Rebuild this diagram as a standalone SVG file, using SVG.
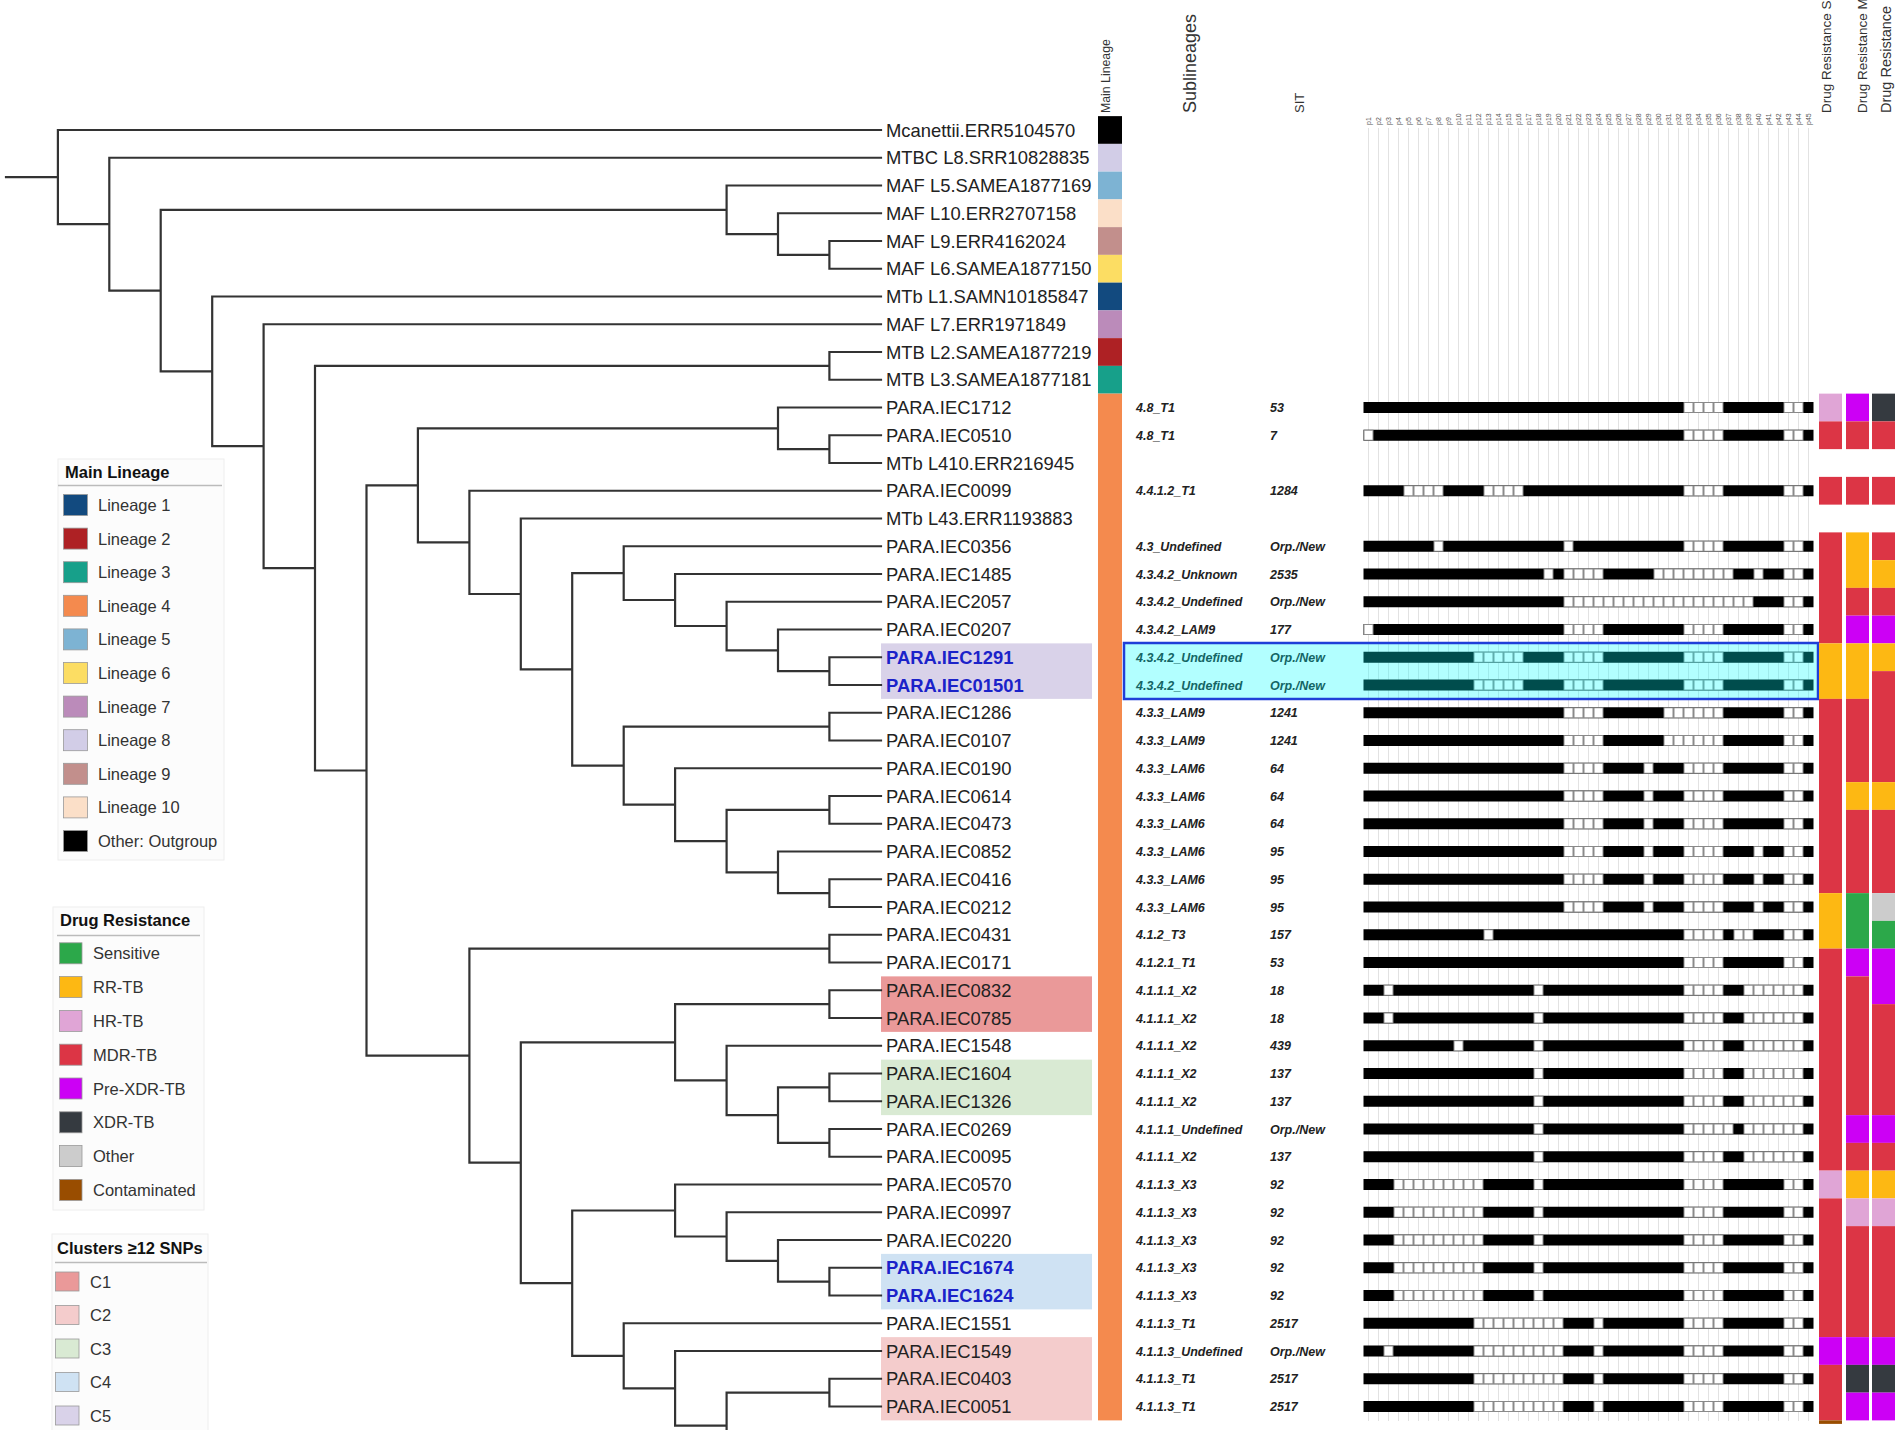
<svg xmlns="http://www.w3.org/2000/svg" xmlns:xlink="http://www.w3.org/1999/xlink" width="1902" height="1430" viewBox="0 0 1902 1430">
<style>
.lbl{font-family:"Liberation Sans",Arial,sans-serif;font-size:18.4px;fill:#222}
.lb{font-weight:bold;fill:#1b22c9}
.sub{font-family:"Liberation Sans",Arial,sans-serif;font-size:12.5px;font-weight:bold;font-style:italic;fill:#222}
.hdr{font-family:"Liberation Sans",Arial,sans-serif;fill:#333}
.pl{font-family:"Liberation Sans",Arial,sans-serif;font-size:7px;fill:#555}
.tree{fill:none;stroke:#333;stroke-width:2.2;stroke-linecap:square}
.grid{fill:none;stroke:#e2e2e2;stroke-width:1}
.bb{fill:#000}
.wr{fill:url(#wsq)}
.leg{font-family:"Liberation Sans",Arial,sans-serif;font-size:16.5px;fill:#333}
.legt{font-weight:bold;fill:#111}
.lbox{fill:#fcfcfc;stroke:#eeeeee;stroke-width:1}
.sep{stroke:#bbbbbb;stroke-width:1.5}
.sw{stroke:#999;stroke-width:0.8}
.mdr{fill:#dc3545}.rr{fill:#fdb813}.hr{fill:#e0a5d6}.px{fill:#cc00f5}.xdr{fill:#353a40}.sen{fill:#2ca84a}.oth{fill:#cccccc}.con{fill:#994d00}
</style>
<defs>
<pattern id="wsq" patternUnits="userSpaceOnUse" x="1363.5" y="-5.5" width="10" height="11">
<rect x="0.5" y="0.5" width="9" height="10" fill="#fff" stroke="#8a8a8a" stroke-width="1"/>
</pattern>
<g id="spA"><rect class="bb" x="1363.5" y="-5.5" width="450" height="11"/><rect class="wr" x="1683.5" y="-5.5" width="40" height="11"/><rect class="wr" x="1783.5" y="-5.5" width="20" height="11"/></g>
<g id="spB"><rect class="bb" x="1363.5" y="-5.5" width="450" height="11"/><rect class="wr" x="1363.5" y="-5.5" width="10" height="11"/><rect class="wr" x="1683.5" y="-5.5" width="40" height="11"/><rect class="wr" x="1783.5" y="-5.5" width="20" height="11"/></g>
<g id="spC"><rect class="bb" x="1363.5" y="-5.5" width="450" height="11"/><rect class="wr" x="1403.5" y="-5.5" width="40" height="11"/><rect class="wr" x="1483.5" y="-5.5" width="40" height="11"/><rect class="wr" x="1683.5" y="-5.5" width="40" height="11"/><rect class="wr" x="1783.5" y="-5.5" width="20" height="11"/></g>
<g id="spD"><rect class="bb" x="1363.5" y="-5.5" width="450" height="11"/><rect class="wr" x="1433.5" y="-5.5" width="10" height="11"/><rect class="wr" x="1563.5" y="-5.5" width="10" height="11"/><rect class="wr" x="1683.5" y="-5.5" width="40" height="11"/><rect class="wr" x="1783.5" y="-5.5" width="20" height="11"/></g>
<g id="spE"><rect class="bb" x="1363.5" y="-5.5" width="450" height="11"/><rect class="wr" x="1543.5" y="-5.5" width="10" height="11"/><rect class="wr" x="1563.5" y="-5.5" width="40" height="11"/><rect class="wr" x="1653.5" y="-5.5" width="80" height="11"/><rect class="wr" x="1753.5" y="-5.5" width="10" height="11"/><rect class="wr" x="1783.5" y="-5.5" width="20" height="11"/></g>
<g id="spF"><rect class="bb" x="1363.5" y="-5.5" width="450" height="11"/><rect class="wr" x="1563.5" y="-5.5" width="190" height="11"/><rect class="wr" x="1783.5" y="-5.5" width="20" height="11"/></g>
<g id="spG"><rect class="bb" x="1363.5" y="-5.5" width="450" height="11"/><rect class="wr" x="1363.5" y="-5.5" width="10" height="11"/><rect class="wr" x="1563.5" y="-5.5" width="40" height="11"/><rect class="wr" x="1683.5" y="-5.5" width="40" height="11"/><rect class="wr" x="1783.5" y="-5.5" width="20" height="11"/></g>
<g id="spH"><rect class="bb" x="1363.5" y="-5.5" width="450" height="11"/><rect class="wr" x="1473.5" y="-5.5" width="50" height="11"/><rect class="wr" x="1563.5" y="-5.5" width="40" height="11"/><rect class="wr" x="1683.5" y="-5.5" width="40" height="11"/><rect class="wr" x="1783.5" y="-5.5" width="20" height="11"/></g>
<g id="spI"><rect class="bb" x="1363.5" y="-5.5" width="450" height="11"/><rect class="wr" x="1563.5" y="-5.5" width="40" height="11"/><rect class="wr" x="1663.5" y="-5.5" width="60" height="11"/><rect class="wr" x="1783.5" y="-5.5" width="20" height="11"/></g>
<g id="spJ"><rect class="bb" x="1363.5" y="-5.5" width="450" height="11"/><rect class="wr" x="1563.5" y="-5.5" width="40" height="11"/><rect class="wr" x="1643.5" y="-5.5" width="10" height="11"/><rect class="wr" x="1683.5" y="-5.5" width="40" height="11"/><rect class="wr" x="1783.5" y="-5.5" width="20" height="11"/></g>
<g id="spK"><rect class="bb" x="1363.5" y="-5.5" width="450" height="11"/><rect class="wr" x="1563.5" y="-5.5" width="40" height="11"/><rect class="wr" x="1643.5" y="-5.5" width="10" height="11"/><rect class="wr" x="1683.5" y="-5.5" width="40" height="11"/><rect class="wr" x="1753.5" y="-5.5" width="10" height="11"/><rect class="wr" x="1783.5" y="-5.5" width="20" height="11"/></g>
<g id="spL"><rect class="bb" x="1363.5" y="-5.5" width="450" height="11"/><rect class="wr" x="1483.5" y="-5.5" width="10" height="11"/><rect class="wr" x="1683.5" y="-5.5" width="40" height="11"/><rect class="wr" x="1733.5" y="-5.5" width="20" height="11"/><rect class="wr" x="1783.5" y="-5.5" width="20" height="11"/></g>
<g id="spM"><rect class="bb" x="1363.5" y="-5.5" width="450" height="11"/><rect class="wr" x="1383.5" y="-5.5" width="10" height="11"/><rect class="wr" x="1533.5" y="-5.5" width="10" height="11"/><rect class="wr" x="1683.5" y="-5.5" width="40" height="11"/><rect class="wr" x="1743.5" y="-5.5" width="60" height="11"/></g>
<g id="spN"><rect class="bb" x="1363.5" y="-5.5" width="450" height="11"/><rect class="wr" x="1453.5" y="-5.5" width="10" height="11"/><rect class="wr" x="1533.5" y="-5.5" width="10" height="11"/><rect class="wr" x="1683.5" y="-5.5" width="40" height="11"/><rect class="wr" x="1743.5" y="-5.5" width="60" height="11"/></g>
<g id="spO"><rect class="bb" x="1363.5" y="-5.5" width="450" height="11"/><rect class="wr" x="1533.5" y="-5.5" width="10" height="11"/><rect class="wr" x="1683.5" y="-5.5" width="40" height="11"/><rect class="wr" x="1743.5" y="-5.5" width="60" height="11"/></g>
<g id="spP"><rect class="bb" x="1363.5" y="-5.5" width="450" height="11"/><rect class="wr" x="1533.5" y="-5.5" width="10" height="11"/><rect class="wr" x="1683.5" y="-5.5" width="50" height="11"/><rect class="wr" x="1743.5" y="-5.5" width="60" height="11"/></g>
<g id="spQ"><rect class="bb" x="1363.5" y="-5.5" width="450" height="11"/><rect class="wr" x="1393.5" y="-5.5" width="90" height="11"/><rect class="wr" x="1533.5" y="-5.5" width="10" height="11"/><rect class="wr" x="1683.5" y="-5.5" width="40" height="11"/><rect class="wr" x="1783.5" y="-5.5" width="20" height="11"/></g>
<g id="spR"><rect class="bb" x="1363.5" y="-5.5" width="450" height="11"/><rect class="wr" x="1473.5" y="-5.5" width="90" height="11"/><rect class="wr" x="1593.5" y="-5.5" width="10" height="11"/><rect class="wr" x="1683.5" y="-5.5" width="40" height="11"/><rect class="wr" x="1783.5" y="-5.5" width="20" height="11"/></g>
<g id="spS"><rect class="bb" x="1363.5" y="-5.5" width="450" height="11"/><rect class="wr" x="1383.5" y="-5.5" width="10" height="11"/><rect class="wr" x="1473.5" y="-5.5" width="90" height="11"/><rect class="wr" x="1593.5" y="-5.5" width="10" height="11"/><rect class="wr" x="1683.5" y="-5.5" width="40" height="11"/><rect class="wr" x="1783.5" y="-5.5" width="20" height="11"/></g>
</defs>
<rect x="0" y="0" width="1902" height="1430" fill="#ffffff"/>

<g id="headers" class="hdr">
<text transform="translate(1110,113) rotate(-90)" font-size="12.3">Main Lineage</text>
<text transform="translate(1196,113) rotate(-90)" font-size="18">Sublineages</text>
<text transform="translate(1304,113) rotate(-90)" font-size="13">SIT</text>
<text transform="translate(1831,113) rotate(-90)" font-size="13.5">Drug Resistance S</text>
<text transform="translate(1867,113) rotate(-90)" font-size="13.5">Drug Resistance M</text>
<text transform="translate(1891,113) rotate(-90)" font-size="14.5">Drug Resistance</text>
</g>
<g id="spacer-labels" class="pl">
<text transform="translate(1371,125) rotate(-90)">p1</text><text transform="translate(1381,125) rotate(-90)">p2</text><text transform="translate(1391,125) rotate(-90)">p3</text><text transform="translate(1401,125) rotate(-90)">p4</text><text transform="translate(1411,125) rotate(-90)">p5</text><text transform="translate(1421,125) rotate(-90)">p6</text><text transform="translate(1431,125) rotate(-90)">p7</text><text transform="translate(1441,125) rotate(-90)">p8</text><text transform="translate(1451,125) rotate(-90)">p9</text><text transform="translate(1461,125) rotate(-90)">p10</text><text transform="translate(1471,125) rotate(-90)">p11</text><text transform="translate(1481,125) rotate(-90)">p12</text><text transform="translate(1491,125) rotate(-90)">p13</text><text transform="translate(1501,125) rotate(-90)">p14</text><text transform="translate(1511,125) rotate(-90)">p15</text><text transform="translate(1521,125) rotate(-90)">p16</text><text transform="translate(1531,125) rotate(-90)">p17</text><text transform="translate(1541,125) rotate(-90)">p18</text><text transform="translate(1551,125) rotate(-90)">p19</text><text transform="translate(1561,125) rotate(-90)">p20</text><text transform="translate(1571,125) rotate(-90)">p21</text><text transform="translate(1581,125) rotate(-90)">p22</text><text transform="translate(1591,125) rotate(-90)">p23</text><text transform="translate(1601,125) rotate(-90)">p24</text><text transform="translate(1611,125) rotate(-90)">p25</text><text transform="translate(1621,125) rotate(-90)">p26</text><text transform="translate(1631,125) rotate(-90)">p27</text><text transform="translate(1641,125) rotate(-90)">p28</text><text transform="translate(1651,125) rotate(-90)">p29</text><text transform="translate(1661,125) rotate(-90)">p30</text><text transform="translate(1671,125) rotate(-90)">p31</text><text transform="translate(1681,125) rotate(-90)">p32</text><text transform="translate(1691,125) rotate(-90)">p33</text><text transform="translate(1701,125) rotate(-90)">p34</text><text transform="translate(1711,125) rotate(-90)">p35</text><text transform="translate(1721,125) rotate(-90)">p36</text><text transform="translate(1731,125) rotate(-90)">p37</text><text transform="translate(1741,125) rotate(-90)">p38</text><text transform="translate(1751,125) rotate(-90)">p39</text><text transform="translate(1761,125) rotate(-90)">p40</text><text transform="translate(1771,125) rotate(-90)">p41</text><text transform="translate(1781,125) rotate(-90)">p42</text><text transform="translate(1791,125) rotate(-90)">p43</text><text transform="translate(1801,125) rotate(-90)">p44</text><text transform="translate(1811,125) rotate(-90)">p45</text>
</g>
<path id="gridlines" class="grid" d="M1368.5 128V1421M1378.5 128V1421M1388.5 128V1421M1398.5 128V1421M1408.5 128V1421M1418.5 128V1421M1428.5 128V1421M1438.5 128V1421M1448.5 128V1421M1458.5 128V1421M1468.5 128V1421M1478.5 128V1421M1488.5 128V1421M1498.5 128V1421M1508.5 128V1421M1518.5 128V1421M1528.5 128V1421M1538.5 128V1421M1548.5 128V1421M1558.5 128V1421M1568.5 128V1421M1578.5 128V1421M1588.5 128V1421M1598.5 128V1421M1608.5 128V1421M1618.5 128V1421M1628.5 128V1421M1638.5 128V1421M1648.5 128V1421M1658.5 128V1421M1668.5 128V1421M1678.5 128V1421M1688.5 128V1421M1698.5 128V1421M1708.5 128V1421M1718.5 128V1421M1728.5 128V1421M1738.5 128V1421M1748.5 128V1421M1758.5 128V1421M1768.5 128V1421M1778.5 128V1421M1788.5 128V1421M1798.5 128V1421M1808.5 128V1421"/>

<g id="cluster-highlights">
<rect x="881" y="643.38" width="211" height="55.5" fill="#d9d2e9"/>
<rect x="881" y="976.38" width="211" height="55.5" fill="#ea9999"/>
<rect x="881" y="1059.63" width="211" height="55.5" fill="#d9ead3"/>
<rect x="881" y="1253.88" width="211" height="55.5" fill="#cfe2f3"/>
<rect x="881" y="1337.13" width="211" height="83.25" fill="#f4cccc"/>
</g>

<g id="connectors">
<path class="tree" d="M6 177.1H57.9M57.9 130V224.2M57.9 130H881M57.9 224.2H109.3M109.3 157.75V290.6M109.3 157.75H881M109.3 290.6H160.7M160.7 209.8V371.4M160.7 209.8H726.6M726.6 185.5V234.1M726.6 185.5H881M726.6 234.1H778M778 213.25V254.9M778 213.25H881M778 254.9H829.4M829.4 241V268.75M829.4 241H881M829.4 268.75H881M160.7 371.4H212.2M212.2 296.5V446.2M212.2 296.5H881M212.2 446.2H263.6M263.6 324.25V568.2M263.6 324.25H881M263.6 568.2H315M315 365.9V770.5M315 365.9H829.4M829.4 352V379.75M829.4 352H881M829.4 379.75H881M315 770.5H366.5M366.5 485.4V1055.7M366.5 485.4H417.9M417.9 428.3V542.4M417.9 428.3H778M778 407.5V449.1M778 407.5H881M778 449.1H829.4M829.4 435.25V463M829.4 435.25H881M829.4 463H881M417.9 542.4H469.4M469.4 490.75V594M469.4 490.75H881M469.4 594H520.8M520.8 518.5V669.4M520.8 518.5H881M520.8 669.4H572.2M572.2 573.1V765.7M572.2 573.1H623.7M623.7 546.25V600M623.7 546.25H881M623.7 600H675.1M675.1 574V626M675.1 574H881M675.1 626H726.6M726.6 601.75V650.3M726.6 601.75H881M726.6 650.3H778M778 629.5V671.1M778 629.5H881M778 671.1H829.4M829.4 657.25V685M829.4 657.25H881M829.4 685H881M572.2 765.7H623.7M623.7 726.6V804.7M623.7 726.6H829.4M829.4 712.75V740.5M829.4 712.75H881M829.4 740.5H881M623.7 804.7H675.1M675.1 768.25V841.1M675.1 768.25H881M675.1 841.1H726.6M726.6 809.9V872.3M726.6 809.9H829.4M829.4 796V823.75M829.4 796H881M829.4 823.75H881M726.6 872.3H778M778 851.5V893.1M778 851.5H881M778 893.1H829.4M829.4 879.25V907M829.4 879.25H881M829.4 907H881M366.5 1055.7H469.4M469.4 948.6V1162.7M469.4 948.6H829.4M829.4 934.75V962.5M829.4 934.75H881M829.4 962.5H881M469.4 1162.7H520.8M520.8 1042.3V1283.2M520.8 1042.3H675.1M675.1 1004.1V1080.4M675.1 1004.1H829.4M829.4 990.25V1018M829.4 990.25H881M829.4 1018H881M675.1 1080.4H726.6M726.6 1045.75V1115.1M726.6 1045.75H881M726.6 1115.1H778M778 1087.4V1142.9M778 1087.4H829.4M829.4 1073.5V1101.25M829.4 1073.5H881M829.4 1101.25H881M778 1142.9H829.4M829.4 1129V1156.75M829.4 1129H881M829.4 1156.75H881M520.8 1283.2H572.2M572.2 1210.5V1355.8M572.2 1210.5H675.1M675.1 1184.5V1236.5M675.1 1184.5H881M675.1 1236.5H726.6M726.6 1212.25V1260.8M726.6 1212.25H881M726.6 1260.8H778M778 1240V1281.6M778 1240H881M778 1281.6H829.4M829.4 1267.75V1295.5M829.4 1267.75H881M829.4 1295.5H881M572.2 1355.8H623.7M623.7 1323.25V1388.3M623.7 1323.25H881M623.7 1388.3H675.1M675.1 1351V1425.6M675.1 1351H881M675.1 1425.6H726.6M726.6 1392.6V1440M726.6 1392.6H829.4M829.4 1378.75V1406.5M829.4 1378.75H881M829.4 1406.5H881"/>
</g>

<g id="main-lineage-bar">
<rect x="1098" y="116.13" width="24" height="27.75" fill="#000000"/>
<rect x="1098" y="143.88" width="24" height="27.75" fill="#d2cde7"/>
<rect x="1098" y="171.63" width="24" height="27.75" fill="#7db3d3"/>
<rect x="1098" y="199.38" width="24" height="27.75" fill="#fbdfc8"/>
<rect x="1098" y="227.13" width="24" height="27.75" fill="#c28f8c"/>
<rect x="1098" y="254.88" width="24" height="27.75" fill="#fcdd63"/>
<rect x="1098" y="282.63" width="24" height="27.75" fill="#124a7f"/>
<rect x="1098" y="310.38" width="24" height="27.75" fill="#bb8bba"/>
<rect x="1098" y="338.13" width="24" height="27.75" fill="#ae2124"/>
<rect x="1098" y="365.88" width="24" height="27.75" fill="#17a08a"/>
<rect x="1098" y="393.63" width="24" height="1026.75" fill="#f48a4e"/>
</g>

<g id="n01"><text class="lbl" x="886" y="136.5">Mcanettii.ERR5104570</text></g>
<g id="n02"><text class="lbl" x="886" y="164.25">MTBC L8.SRR10828835</text></g>
<g id="n03"><text class="lbl" x="886" y="192">MAF L5.SAMEA1877169</text></g>
<g id="n04"><text class="lbl" x="886" y="219.75">MAF L10.ERR2707158</text></g>
<g id="n05"><text class="lbl" x="886" y="247.5">MAF L9.ERR4162024</text></g>
<g id="n06"><text class="lbl" x="886" y="275.25">MAF L6.SAMEA1877150</text></g>
<g id="n07"><text class="lbl" x="886" y="303">MTb L1.SAMN10185847</text></g>
<g id="n08"><text class="lbl" x="886" y="330.75">MAF L7.ERR1971849</text></g>
<g id="n09"><text class="lbl" x="886" y="358.5">MTB L2.SAMEA1877219</text></g>
<g id="n10"><text class="lbl" x="886" y="386.25">MTB L3.SAMEA1877181</text></g>
<g id="n11"><text class="lbl" x="886" y="414">PARA.IEC1712</text><text class="sub" x="1136" y="412">4.8_T1</text><text class="sub" x="1270" y="412">53</text><use href="#spA" y="407.5"/></g>
<g id="n12"><text class="lbl" x="886" y="441.75">PARA.IEC0510</text><text class="sub" x="1136" y="439.75">4.8_T1</text><text class="sub" x="1270" y="439.75">7</text><use href="#spB" y="435.25"/></g>
<g id="n13"><text class="lbl" x="886" y="469.5">MTb L410.ERR216945</text></g>
<g id="n14"><text class="lbl" x="886" y="497.25">PARA.IEC0099</text><text class="sub" x="1136" y="495.25">4.4.1.2_T1</text><text class="sub" x="1270" y="495.25">1284</text><use href="#spC" y="490.75"/></g>
<g id="n15"><text class="lbl" x="886" y="525">MTb L43.ERR1193883</text></g>
<g id="n16"><text class="lbl" x="886" y="552.75">PARA.IEC0356</text><text class="sub" x="1136" y="550.75">4.3_Undefined</text><text class="sub" x="1270" y="550.75">Orp./New</text><use href="#spD" y="546.25"/></g>
<g id="n17"><text class="lbl" x="886" y="580.5">PARA.IEC1485</text><text class="sub" x="1136" y="578.5">4.3.4.2_Unknown</text><text class="sub" x="1270" y="578.5">2535</text><use href="#spE" y="574"/></g>
<g id="n18"><text class="lbl" x="886" y="608.25">PARA.IEC2057</text><text class="sub" x="1136" y="606.25">4.3.4.2_Undefined</text><text class="sub" x="1270" y="606.25">Orp./New</text><use href="#spF" y="601.75"/></g>
<g id="n19"><text class="lbl" x="886" y="636">PARA.IEC0207</text><text class="sub" x="1136" y="634">4.3.4.2_LAM9</text><text class="sub" x="1270" y="634">177</text><use href="#spG" y="629.5"/></g>
<g id="n20"><text class="lbl lb" x="886" y="663.75">PARA.IEC1291</text><text class="sub" x="1136" y="661.75">4.3.4.2_Undefined</text><text class="sub" x="1270" y="661.75">Orp./New</text><use href="#spH" y="657.25"/></g>
<g id="n21"><text class="lbl lb" x="886" y="691.5">PARA.IEC01501</text><text class="sub" x="1136" y="689.5">4.3.4.2_Undefined</text><text class="sub" x="1270" y="689.5">Orp./New</text><use href="#spH" y="685"/></g>
<g id="n22"><text class="lbl" x="886" y="719.25">PARA.IEC1286</text><text class="sub" x="1136" y="717.25">4.3.3_LAM9</text><text class="sub" x="1270" y="717.25">1241</text><use href="#spI" y="712.75"/></g>
<g id="n23"><text class="lbl" x="886" y="747">PARA.IEC0107</text><text class="sub" x="1136" y="745">4.3.3_LAM9</text><text class="sub" x="1270" y="745">1241</text><use href="#spI" y="740.5"/></g>
<g id="n24"><text class="lbl" x="886" y="774.75">PARA.IEC0190</text><text class="sub" x="1136" y="772.75">4.3.3_LAM6</text><text class="sub" x="1270" y="772.75">64</text><use href="#spJ" y="768.25"/></g>
<g id="n25"><text class="lbl" x="886" y="802.5">PARA.IEC0614</text><text class="sub" x="1136" y="800.5">4.3.3_LAM6</text><text class="sub" x="1270" y="800.5">64</text><use href="#spJ" y="796"/></g>
<g id="n26"><text class="lbl" x="886" y="830.25">PARA.IEC0473</text><text class="sub" x="1136" y="828.25">4.3.3_LAM6</text><text class="sub" x="1270" y="828.25">64</text><use href="#spJ" y="823.75"/></g>
<g id="n27"><text class="lbl" x="886" y="858">PARA.IEC0852</text><text class="sub" x="1136" y="856">4.3.3_LAM6</text><text class="sub" x="1270" y="856">95</text><use href="#spK" y="851.5"/></g>
<g id="n28"><text class="lbl" x="886" y="885.75">PARA.IEC0416</text><text class="sub" x="1136" y="883.75">4.3.3_LAM6</text><text class="sub" x="1270" y="883.75">95</text><use href="#spK" y="879.25"/></g>
<g id="n29"><text class="lbl" x="886" y="913.5">PARA.IEC0212</text><text class="sub" x="1136" y="911.5">4.3.3_LAM6</text><text class="sub" x="1270" y="911.5">95</text><use href="#spK" y="907"/></g>
<g id="n30"><text class="lbl" x="886" y="941.25">PARA.IEC0431</text><text class="sub" x="1136" y="939.25">4.1.2_T3</text><text class="sub" x="1270" y="939.25">157</text><use href="#spL" y="934.75"/></g>
<g id="n31"><text class="lbl" x="886" y="969">PARA.IEC0171</text><text class="sub" x="1136" y="967">4.1.2.1_T1</text><text class="sub" x="1270" y="967">53</text><use href="#spA" y="962.5"/></g>
<g id="n32"><text class="lbl" x="886" y="996.75">PARA.IEC0832</text><text class="sub" x="1136" y="994.75">4.1.1.1_X2</text><text class="sub" x="1270" y="994.75">18</text><use href="#spM" y="990.25"/></g>
<g id="n33"><text class="lbl" x="886" y="1024.5">PARA.IEC0785</text><text class="sub" x="1136" y="1022.5">4.1.1.1_X2</text><text class="sub" x="1270" y="1022.5">18</text><use href="#spM" y="1018"/></g>
<g id="n34"><text class="lbl" x="886" y="1052.25">PARA.IEC1548</text><text class="sub" x="1136" y="1050.25">4.1.1.1_X2</text><text class="sub" x="1270" y="1050.25">439</text><use href="#spN" y="1045.75"/></g>
<g id="n35"><text class="lbl" x="886" y="1080">PARA.IEC1604</text><text class="sub" x="1136" y="1078">4.1.1.1_X2</text><text class="sub" x="1270" y="1078">137</text><use href="#spO" y="1073.5"/></g>
<g id="n36"><text class="lbl" x="886" y="1107.75">PARA.IEC1326</text><text class="sub" x="1136" y="1105.75">4.1.1.1_X2</text><text class="sub" x="1270" y="1105.75">137</text><use href="#spO" y="1101.25"/></g>
<g id="n37"><text class="lbl" x="886" y="1135.5">PARA.IEC0269</text><text class="sub" x="1136" y="1133.5">4.1.1.1_Undefined</text><text class="sub" x="1270" y="1133.5">Orp./New</text><use href="#spP" y="1129"/></g>
<g id="n38"><text class="lbl" x="886" y="1163.25">PARA.IEC0095</text><text class="sub" x="1136" y="1161.25">4.1.1.1_X2</text><text class="sub" x="1270" y="1161.25">137</text><use href="#spO" y="1156.75"/></g>
<g id="n39"><text class="lbl" x="886" y="1191">PARA.IEC0570</text><text class="sub" x="1136" y="1189">4.1.1.3_X3</text><text class="sub" x="1270" y="1189">92</text><use href="#spQ" y="1184.5"/></g>
<g id="n40"><text class="lbl" x="886" y="1218.75">PARA.IEC0997</text><text class="sub" x="1136" y="1216.75">4.1.1.3_X3</text><text class="sub" x="1270" y="1216.75">92</text><use href="#spQ" y="1212.25"/></g>
<g id="n41"><text class="lbl" x="886" y="1246.5">PARA.IEC0220</text><text class="sub" x="1136" y="1244.5">4.1.1.3_X3</text><text class="sub" x="1270" y="1244.5">92</text><use href="#spQ" y="1240"/></g>
<g id="n42"><text class="lbl lb" x="886" y="1274.25">PARA.IEC1674</text><text class="sub" x="1136" y="1272.25">4.1.1.3_X3</text><text class="sub" x="1270" y="1272.25">92</text><use href="#spQ" y="1267.75"/></g>
<g id="n43"><text class="lbl lb" x="886" y="1302">PARA.IEC1624</text><text class="sub" x="1136" y="1300">4.1.1.3_X3</text><text class="sub" x="1270" y="1300">92</text><use href="#spQ" y="1295.5"/></g>
<g id="n44"><text class="lbl" x="886" y="1329.75">PARA.IEC1551</text><text class="sub" x="1136" y="1327.75">4.1.1.3_T1</text><text class="sub" x="1270" y="1327.75">2517</text><use href="#spR" y="1323.25"/></g>
<g id="n45"><text class="lbl" x="886" y="1357.5">PARA.IEC1549</text><text class="sub" x="1136" y="1355.5">4.1.1.3_Undefined</text><text class="sub" x="1270" y="1355.5">Orp./New</text><use href="#spS" y="1351"/></g>
<g id="n46"><text class="lbl" x="886" y="1385.25">PARA.IEC0403</text><text class="sub" x="1136" y="1383.25">4.1.1.3_T1</text><text class="sub" x="1270" y="1383.25">2517</text><use href="#spR" y="1378.75"/></g>
<g id="n47"><text class="lbl" x="886" y="1413">PARA.IEC0051</text><text class="sub" x="1136" y="1411">4.1.1.3_T1</text><text class="sub" x="1270" y="1411">2517</text><use href="#spR" y="1406.5"/></g>

<g id="highlight-box">
<rect x="1124" y="643" width="694" height="56" fill="#00ffff" fill-opacity="0.3" stroke="#1f3fd8" stroke-width="2.5"/>
</g>

<g id="drug-resistance">
<rect class="hr" x="1819" y="393.63" width="23" height="27.75"/>
<rect class="mdr" x="1819" y="421.38" width="23" height="27.75"/>
<rect class="mdr" x="1819" y="476.88" width="23" height="27.75"/>
<rect class="mdr" x="1819" y="532.38" width="23" height="111"/>
<rect class="rr" x="1819" y="643.38" width="23" height="55.5"/>
<rect class="mdr" x="1819" y="698.88" width="23" height="194.25"/>
<rect class="rr" x="1819" y="893.13" width="23" height="55.5"/>
<rect class="mdr" x="1819" y="948.63" width="23" height="222"/>
<rect class="hr" x="1819" y="1170.63" width="23" height="27.75"/>
<rect class="mdr" x="1819" y="1198.38" width="23" height="138.75"/>
<rect class="px" x="1819" y="1337.13" width="23" height="27.75"/>
<rect class="mdr" x="1819" y="1364.88" width="23" height="55.5"/>
<rect class="con" x="1819" y="1420.38" width="23" height="3.5"/>

<rect class="px" x="1846" y="393.63" width="23" height="27.75"/>
<rect class="mdr" x="1846" y="421.38" width="23" height="27.75"/>
<rect class="mdr" x="1846" y="476.88" width="23" height="27.75"/>
<rect class="rr" x="1846" y="532.38" width="23" height="55.5"/>
<rect class="mdr" x="1846" y="587.88" width="23" height="27.75"/>
<rect class="px" x="1846" y="615.63" width="23" height="27.75"/>
<rect class="rr" x="1846" y="643.38" width="23" height="55.5"/>
<rect class="mdr" x="1846" y="698.88" width="23" height="83.25"/>
<rect class="rr" x="1846" y="782.13" width="23" height="27.75"/>
<rect class="mdr" x="1846" y="809.88" width="23" height="83.25"/>
<rect class="sen" x="1846" y="893.13" width="23" height="55.5"/>
<rect class="px" x="1846" y="948.63" width="23" height="27.75"/>
<rect class="mdr" x="1846" y="976.38" width="23" height="138.75"/>
<rect class="px" x="1846" y="1115.13" width="23" height="27.75"/>
<rect class="mdr" x="1846" y="1142.88" width="23" height="27.75"/>
<rect class="rr" x="1846" y="1170.63" width="23" height="27.75"/>
<rect class="hr" x="1846" y="1198.38" width="23" height="27.75"/>
<rect class="mdr" x="1846" y="1226.13" width="23" height="111"/>
<rect class="px" x="1846" y="1337.13" width="23" height="27.75"/>
<rect class="xdr" x="1846" y="1364.88" width="23" height="27.75"/>
<rect class="px" x="1846" y="1392.63" width="23" height="27.75"/>

<rect class="xdr" x="1872" y="393.63" width="23" height="27.75"/>
<rect class="mdr" x="1872" y="421.38" width="23" height="27.75"/>
<rect class="mdr" x="1872" y="476.88" width="23" height="27.75"/>
<rect class="mdr" x="1872" y="532.38" width="23" height="27.75"/>
<rect class="rr" x="1872" y="560.13" width="23" height="27.75"/>
<rect class="mdr" x="1872" y="587.88" width="23" height="27.75"/>
<rect class="px" x="1872" y="615.63" width="23" height="27.75"/>
<rect class="rr" x="1872" y="643.38" width="23" height="27.75"/>
<rect class="mdr" x="1872" y="671.13" width="23" height="111"/>
<rect class="rr" x="1872" y="782.13" width="23" height="27.75"/>
<rect class="mdr" x="1872" y="809.88" width="23" height="83.25"/>
<rect class="oth" x="1872" y="893.13" width="23" height="27.75"/>
<rect class="sen" x="1872" y="920.88" width="23" height="27.75"/>
<rect class="px" x="1872" y="948.63" width="23" height="55.5"/>
<rect class="mdr" x="1872" y="1004.13" width="23" height="111"/>
<rect class="px" x="1872" y="1115.13" width="23" height="27.75"/>
<rect class="mdr" x="1872" y="1142.88" width="23" height="27.75"/>
<rect class="rr" x="1872" y="1170.63" width="23" height="27.75"/>
<rect class="hr" x="1872" y="1198.38" width="23" height="27.75"/>
<rect class="mdr" x="1872" y="1226.13" width="23" height="111"/>
<rect class="px" x="1872" y="1337.13" width="23" height="27.75"/>
<rect class="xdr" x="1872" y="1364.88" width="23" height="27.75"/>
<rect class="px" x="1872" y="1392.63" width="23" height="27.75"/>
</g>

<g id="legend-main-lineage" class="leg">
<rect class="lbox" x="58" y="459" width="166" height="401"/>
<text class="legt" x="65" y="477.5">Main Lineage</text>
<line class="sep" x1="58" y1="485.5" x2="222" y2="485.5"/>
<rect class="sw" x="63.5" y="494.5" width="24" height="21" fill="#124a7f"/><text x="98" y="511">Lineage 1</text>
<rect class="sw" x="63.5" y="528.1" width="24" height="21" fill="#ae2124"/><text x="98" y="544.6">Lineage 2</text>
<rect class="sw" x="63.5" y="561.7" width="24" height="21" fill="#17a08a"/><text x="98" y="578.2">Lineage 3</text>
<rect class="sw" x="63.5" y="595.3" width="24" height="21" fill="#f48a4e"/><text x="98" y="611.8">Lineage 4</text>
<rect class="sw" x="63.5" y="628.9" width="24" height="21" fill="#7db3d3"/><text x="98" y="645.4">Lineage 5</text>
<rect class="sw" x="63.5" y="662.5" width="24" height="21" fill="#fcdd63"/><text x="98" y="679">Lineage 6</text>
<rect class="sw" x="63.5" y="696.1" width="24" height="21" fill="#bb8bba"/><text x="98" y="712.6">Lineage 7</text>
<rect class="sw" x="63.5" y="729.7" width="24" height="21" fill="#d2cde7"/><text x="98" y="746.2">Lineage 8</text>
<rect class="sw" x="63.5" y="763.3" width="24" height="21" fill="#c28f8c"/><text x="98" y="779.8">Lineage 9</text>
<rect class="sw" x="63.5" y="796.9" width="24" height="21" fill="#fbdfc8"/><text x="98" y="813.4">Lineage 10</text>
<rect class="sw" x="63.5" y="830.5" width="24" height="21" fill="#000000"/><text x="98" y="847">Other: Outgroup</text>
</g>

<g id="legend-drug-resistance" class="leg">
<rect class="lbox" x="53" y="907" width="151" height="303"/>
<text class="legt" x="60" y="925.8">Drug Resistance</text>
<line class="sep" x1="57" y1="935.6" x2="200" y2="935.6"/>
<rect class="sw sen" x="59.5" y="942.8" width="22.5" height="21"/><text x="93" y="959.3">Sensitive</text>
<rect class="sw rr" x="59.5" y="976.6" width="22.5" height="21"/><text x="93" y="993.1">RR-TB</text>
<rect class="sw hr" x="59.5" y="1010.4" width="22.5" height="21"/><text x="93" y="1026.9">HR-TB</text>
<rect class="sw mdr" x="59.5" y="1044.2" width="22.5" height="21"/><text x="93" y="1060.7">MDR-TB</text>
<rect class="sw px" x="59.5" y="1078" width="22.5" height="21"/><text x="93" y="1094.5">Pre-XDR-TB</text>
<rect class="sw xdr" x="59.5" y="1111.8" width="22.5" height="21"/><text x="93" y="1128.3">XDR-TB</text>
<rect class="sw oth" x="59.5" y="1145.6" width="22.5" height="21"/><text x="93" y="1162.1">Other</text>
<rect class="sw con" x="59.5" y="1179.4" width="22.5" height="21"/><text x="93" y="1195.9">Contaminated</text>
</g>

<g id="legend-clusters" class="leg">
<rect class="lbox" x="52" y="1234" width="156" height="200"/>
<text class="legt" x="57" y="1254">Clusters ≥12 SNPs</text>
<line class="sep" x1="55" y1="1262.6" x2="207" y2="1262.6"/>
<rect class="sw" x="55.5" y="1272" width="23.5" height="19" fill="#ea9999"/><text x="90" y="1287.5">C1</text>
<rect class="sw" x="55.5" y="1305.5" width="23.5" height="19" fill="#f4cccc"/><text x="90" y="1321">C2</text>
<rect class="sw" x="55.5" y="1339" width="23.5" height="19" fill="#d9ead3"/><text x="90" y="1354.5">C3</text>
<rect class="sw" x="55.5" y="1372.5" width="23.5" height="19" fill="#cfe2f3"/><text x="90" y="1388">C4</text>
<rect class="sw" x="55.5" y="1406" width="23.5" height="19" fill="#d9d2e9"/><text x="90" y="1421.5">C5</text>
</g>
</svg>
